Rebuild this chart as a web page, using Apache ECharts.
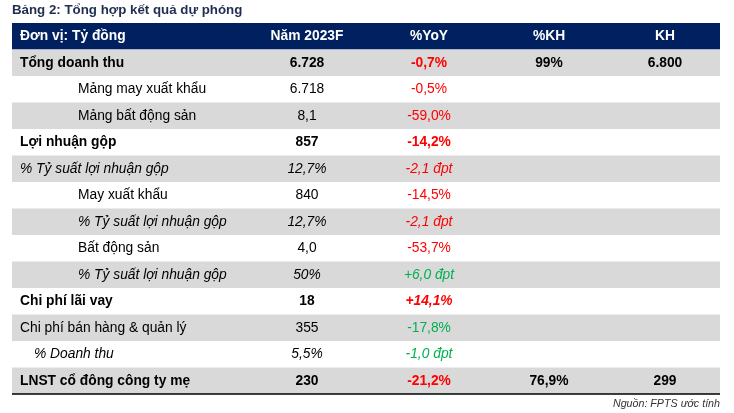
<!DOCTYPE html>
<html>
<head>
<meta charset="utf-8">
<script src="https://cdn.jsdelivr.net/npm/echarts@6/dist/echarts.min.js"></script>
<style>html,body{margin:0;padding:0;background:#fff}#c{width:734px;height:413px}</style>
</head>
<body>
<div id="c"></div>
<script>
// ---- data ----
const headers = ['Đơn vị: Tỷ đồng', 'Năm 2023F', '%YoY', '%KH', 'KH'];
const labels = ['Tổng doanh thu', 'Mảng may xuất khẩu', 'Mảng bất động sản', 'Lợi nhuận gộp',
  '% Tỷ suất lợi nhuận gộp', 'May xuất khẩu', '% Tỷ suất lợi nhuận gộp', 'Bất động sản',
  '% Tỷ suất lợi nhuận gộp', 'Chi phí lãi vay', 'Chi phí bán hàng & quản lý', '% Doanh thu',
  'LNST cổ đông công ty mẹ'];
const values2023 = ['6.728', '6.718', '8,1', '857', '12,7%', '840', '12,7%', '4,0', '50%', '18', '355', '5,5%', '230'];
const yoy = ['-0,7%', '-0,5%', '-59,0%', '-14,2%', '-2,1 đpt', '-14,5%', '-2,1 đpt', '-53,7%', '+6,0 đpt', '+14,1%', '-17,8%', '-1,0 đpt', '-21,2%'];
const pctKH = ['99%', '', '', '', '', '', '', '', '', '', '', '', '76,9%'];
const kh = ['6.800', '', '', '', '', '', '', '', '', '', '', '', '299'];
const titleText = 'Bảng 2: Tổng hợp kết quả dự phóng';
const sourceText = 'Nguồn: FPTS ước tính';

// ---- styles (not data) ----
// b: bold, i: italic, ind: indent level (0,1,2), c: yoy colour
const RED = '#ff0000', GREEN = '#00b050';
const rowStyle = [
  {b:1,i:0,ind:0,c:RED}, {b:0,i:0,ind:2,c:RED}, {b:0,i:0,ind:2,c:RED}, {b:1,i:0,ind:0,c:RED},
  {b:0,i:1,ind:0,c:RED}, {b:0,i:0,ind:2,c:RED}, {b:0,i:1,ind:2,c:RED}, {b:0,i:0,ind:2,c:RED},
  {b:0,i:1,ind:2,c:GREEN}, {b:1,i:0,ind:0,c:RED,yi:1}, {b:0,i:0,ind:0,c:GREEN}, {b:0,i:1,ind:1,c:GREEN},
  {b:1,i:0,ind:0,c:RED}
];
const FONT = '"Liberation Sans", Arial, sans-serif';
const FS = 13.8;
const XMAX = 708;
const labelX = [8, 22, 66];
const colCenters = [295, 417, 537, 653];

const chart = echarts.init(document.getElementById('c'));
const yCats = ['header'].concat(labels);
const data = yCats.map((_, i) => [0, i]);

function font(b, i, size) {
  return (i ? 'italic ' : '') + (b ? 'bold ' : '') + size + 'px ' + FONT;
}

chart.setOption({
  animation: false,
  title: [
    {text: titleText, left: 12, top: 4, padding: 0,
     textStyle: {fontSize: 13.3, fontWeight: 'bold', color: '#1f2d50', fontFamily: FONT}},
    {text: sourceText, right: 14, top: 399, padding: 0,
     textStyle: {fontSize: 10.7, fontWeight: 'normal', fontStyle: 'italic', color: '#333', fontFamily: FONT}}
  ],
  grid: {left: 12, right: 14, top: 23, bottom: 19},
  xAxis: {type: 'value', min: 0, max: XMAX, show: false},
  yAxis: {type: 'category', data: yCats, inverse: true, show: false},
  series: [{
    type: 'custom',
    clip: false,
    data: data,
    encode: {x: 0, y: 1},
    renderItem: function (params, api) {
      const r = api.value(1);
      const p0 = api.coord([0, r]);
      const p1 = api.coord([XMAX, r]);
      const h = api.size([0, 1])[1];
      const top = p0[1] - h / 2;
      const children = [];
      const cx = v => api.coord([v, r])[0];
      if (r === 0) {
        children.push({type: 'rect', shape: {x: p0[0], y: top, width: p1[0] - p0[0], height: h},
          style: {fill: '#002060'}});
        children.push({type: 'text', x: cx(labelX[0]), y: p0[1],
          style: {text: headers[0], fill: '#fff', font: font(1, 0, FS), align: 'left', verticalAlign: 'middle'}});
        for (let k = 1; k < 5; k++) {
          children.push({type: 'text', x: cx(colCenters[k - 1]), y: p0[1],
            style: {text: headers[k], fill: '#fff', font: font(1, 0, FS), align: 'center', verticalAlign: 'middle'}});
        }
        return {type: 'group', children};
      }
      const i = r - 1;
      const s = rowStyle[i];
      if (i % 2 === 0) {
        children.push({type: 'rect', shape: {x: p0[0], y: top, width: p1[0] - p0[0], height: h},
          style: {fill: '#d9d9d9'}});
      }
      children.push({type: 'text', x: cx(labelX[s.ind]), y: p0[1],
        style: {text: labels[i], fill: '#000', font: font(s.b, s.i, FS), align: 'left', verticalAlign: 'middle'}});
      const cells = [values2023[i], yoy[i], pctKH[i], kh[i]];
      cells.forEach((t, k) => {
        if (!t) return;
        children.push({type: 'text', x: cx(colCenters[k]), y: p0[1],
          style: {text: t, fill: k === 1 ? s.c : '#000',
            font: font(s.b, k === 1 ? (s.i || s.yi) : s.i, FS), align: 'center', verticalAlign: 'middle'}});
      });
      if (i === labels.length - 1) {
        children.push({type: 'line', shape: {x1: p0[0], y1: top + h, x2: p1[0], y2: top + h},
          style: {stroke: '#000', lineWidth: 1.5}});
      }
      return {type: 'group', children};
    }
  }]
});
</script>
</body>
</html>
